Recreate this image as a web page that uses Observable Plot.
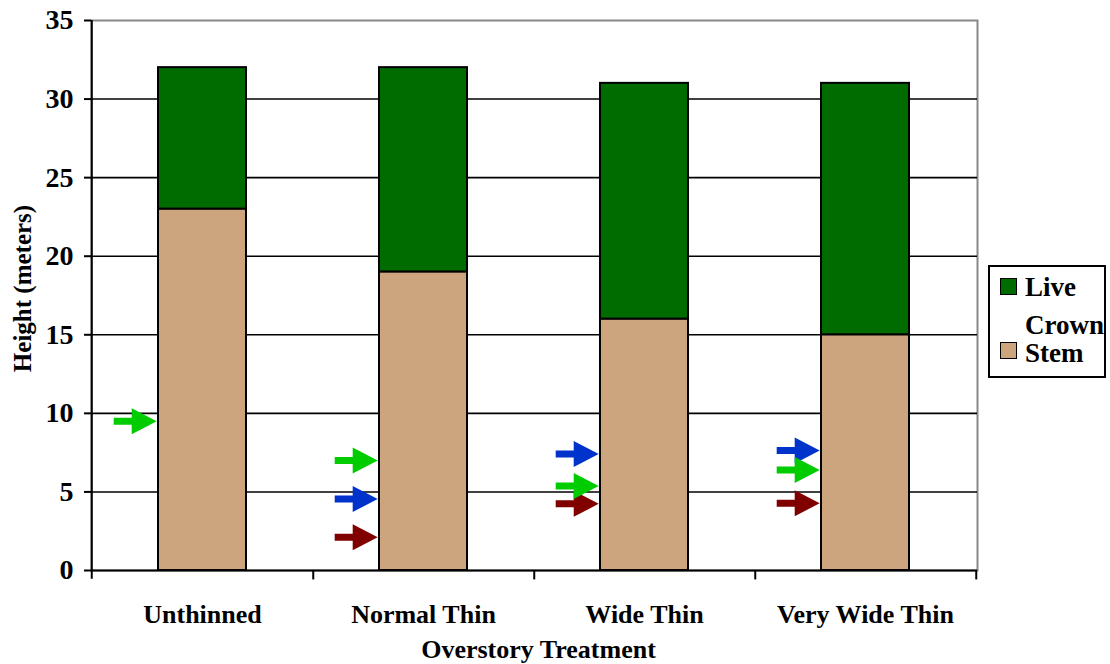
<!DOCTYPE html>
<html>
<head>
<meta charset="utf-8">
<script src="https://cdn.jsdelivr.net/npm/d3@7"></script>
<script src="https://cdn.jsdelivr.net/npm/@observablehq/plot@0.6"></script>
<style>
  body { margin: 0; background: #fff; }
  #chart { position: relative; width: 1110px; height: 664px; }
  .legend {
    position: absolute; left: 988px; top: 265px; width: 114px; height: 109px;
    border: 2px solid #000; background: #fff; overflow: visible;
    font: bold 27px "Liberation Serif", "Times New Roman", serif; color: #000;
  }
  .legend .sw { position: absolute; width: 15px; height: 15px; border: 1.5px solid #000; }
  .legend .lb { position: absolute; white-space: nowrap; line-height: 1; }
</style>
</head>
<body>
<div id="chart"></div>
<script>
// Overstory treatments and tree heights (m)
const treatments = ["Unthinned", "Normal Thin", "Wide Thin", "Very Wide Thin"];
const stemHeight = [23, 19, 16, 15];
const liveCrownLength = [9, 13, 15, 16];

// Marker heights shown as arrows beside each bar (null = none)
const greenArrow = [9.5, 7.0, 5.37, 6.4];
const blueArrow = [null, 4.55, 7.42, 7.64];
const redArrow = [null, 2.12, 4.24, 4.28];

const yTicks = [0, 5, 10, 15, 20, 25, 30, 35];
const gridLines = [5, 10, 15, 20, 25, 30];

const parts = ["Live Crown", "Stem"];
const partColors = ["#006c00", "#cca57f"];

const W = 1110, H = 664;
const mL = 91, mR = 133, mT = 20, mB = 94;
const step = (W - mL - mR) / treatments.length;
const padInner = 0.6;
const bandW = step * (1 - padInner);

// Stack rows: stem at the bottom, live crown above it
const rows = [];
treatments.forEach((t, i) => {
  rows.push({treatment: t, part: "Stem", value: stemHeight[i]});
  rows.push({treatment: t, part: "Live Crown", value: liveCrownLength[i]});
});

const arrowRows = (vals, color) =>
  treatments.map((t, i) => ({treatment: t, value: vals[i], color}))
            .filter(d => d.value != null);

// Block arrow: shaft plus filled head, drawn pointing up then rotated
const HEAD = 25, HALF_HEAD = 13, HALF_SHAFT = 3.5;
const blockArrow = {
  draw(ctx, l) {
    const b = l - HEAD;
    ctx.moveTo(-HALF_SHAFT, 0);
    ctx.lineTo(-HALF_SHAFT, -b);
    ctx.lineTo(-HALF_HEAD, -b);
    ctx.lineTo(0, -l);
    ctx.lineTo(HALF_HEAD, -b);
    ctx.lineTo(HALF_SHAFT, -b);
    ctx.lineTo(HALF_SHAFT, 0);
    ctx.closePath();
  }
};

const arrowMark = (vals, color) => Plot.vector(arrowRows(vals, color), {
  x: "treatment", y: "value", length: 43, rotate: 90, anchor: "end",
  shape: blockArrow, fill: color, stroke: "none", dx: -(bandW / 2 + 1.5)
});

const chart = Plot.plot({
  width: W, height: H,
  marginLeft: mL, marginRight: mR, marginTop: mT, marginBottom: mB,
  style: {fontFamily: "'Liberation Serif', 'Times New Roman', serif", fontSize: "26px", fontWeight: "bold", color: "#000", background: "#fff"},
  x: {domain: treatments, paddingInner: padInner, paddingOuter: padInner / 2, label: null, axis: null},
  y: {domain: [0, 35], label: null, axis: null},
  color: {domain: parts, range: partColors},
  marks: [
    Plot.frame({stroke: "#888", strokeWidth: 2}),
    Plot.ruleY(gridLines, {stroke: "#000", strokeWidth: 1.6}),
    Plot.barY(rows, Plot.stackY({order: ["Stem", "Live Crown"]}, {
      x: "treatment", y: "value", fill: "part", stroke: "#000", strokeWidth: 2
    })),
    arrowMark(blueArrow, "#0033cc"),
    arrowMark(redArrow, "#800000"),
    arrowMark(greenArrow, "#00cc00"),
    // axis lines and ticks
    Plot.ruleY([0], {stroke: "#000", strokeWidth: 2}),
    Plot.ruleX([treatments[0]], {dx: -step / 2, y1: -0.55, y2: 35, stroke: "#000", strokeWidth: 2}),
    Plot.ruleX(treatments, {dx: step / 2, y1: -0.6, y2: 0, stroke: "#000", strokeWidth: 2}),
    Plot.axisY({ticks: yTicks, tickSize: 7, tickPadding: 11, strokeWidth: 2, fontSize: 28, label: null}),
    Plot.axisX({tickSize: 0, tickPadding: 34, fontSize: 26, label: null}),
    Plot.text(["Height (meters)"], {frameAnchor: "left", textAnchor: "middle", lineAnchor: "middle", dx: -69, dy: -7, rotate: -90, fontSize: 25}),
    Plot.text(["Overstory Treatment"], {frameAnchor: "bottom", textAnchor: "middle", lineAnchor: "middle", dx: 4, dy: 79})
  ]
});

const root = document.getElementById("chart");
root.appendChild(chart);

// Legend box on the right
const legend = document.createElement("div");
legend.className = "legend";
legend.innerHTML = `
  <div class="sw" style="left:10px;top:11px;background:${partColors[0]}"></div>
  <div class="lb" style="left:35px;top:7px">Live</div>
  <div class="lb" style="left:35px;top:45px">Crown</div>
  <div class="sw" style="left:10px;top:75px;background:${partColors[1]}"></div>
  <div class="lb" style="left:35px;top:73px">Stem</div>`;
root.appendChild(legend);
</script>
</body>
</html>
